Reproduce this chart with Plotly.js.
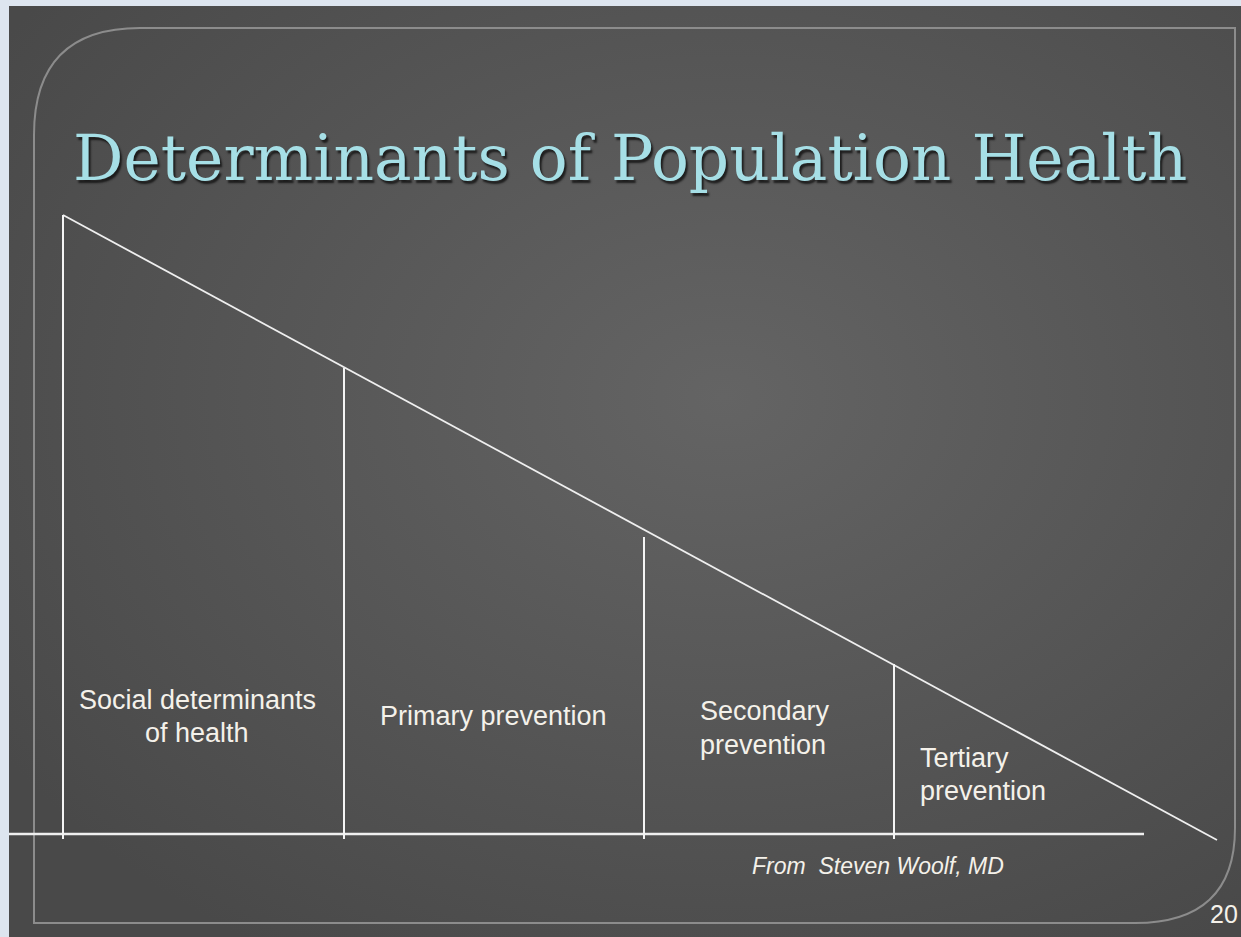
<!DOCTYPE html>
<html>
<head>
<meta charset="utf-8">
<script src="https://cdn.plot.ly/plotly-3.0.1.min.js"></script>
<style>
html,body{margin:0;padding:0;background:#dde5ef;}
#chart{width:1241px;height:937px;}
</style>
</head>
<body>
<div id="chart"></div>
<script>
// ---- data (diagram coordinates) ----
const titleText = "Determinants of Population Health";
const labelLines = ["Social determinants", "of health", "Primary prevention", "Secondary", "prevention", "Tertiary", "prevention"];
const labelX = [197, 197, 493, 698, 698, 918, 918];
const labelY = [700, 733, 716, 711, 745, 758, 791];
const labelAnchor = ["center", "center", "center", "left", "left", "left", "left"];
const boundaryX = [63, 344, 644, 894];
const boundaryTop = [215, 368, 537, 664];
const boundaryBottom = [839, 839, 839, 839];
const diagonalX = [63, 1217];
const diagonalY = [215, 840];
const baselineX = [9, 1144];
const baselineY = [834, 834];
const sourceText = "From  Steven Woolf, MD";
const pageNumber = "20";

const traces = [];
traces.push({x: baselineX, y: baselineY, mode: "lines", line: {color: "#efefef", width: 2.5}, hoverinfo: "skip", showlegend: false});
traces.push({x: diagonalX, y: diagonalY, mode: "lines", line: {color: "#efefef", width: 1.8}, hoverinfo: "skip", showlegend: false});
boundaryX.forEach((bx, i) => {
  traces.push({x: [bx, bx], y: [boundaryTop[i], boundaryBottom[i]], mode: "lines", line: {color: "#f4f4f4", width: 2}, hoverinfo: "skip", showlegend: false});
});

const annotations = [];
annotations.push({x: 630, y: 158, xref: "x", yref: "y", text: titleText, showarrow: false, xanchor: "center", yanchor: "middle",
  font: {family: "DejaVu Serif", size: 63, color: "#a6dfe6", shadow: "2px 3px 2px rgba(15,15,15,0.8)"}});
labelLines.forEach((t, i) => {
  annotations.push({x: labelX[i], y: labelY[i], xref: "x", yref: "y", text: t, showarrow: false,
    xanchor: labelAnchor[i], yanchor: "middle",
    font: {family: "Liberation Sans", size: 27, color: "#f4f1ea"}});
});
annotations.push({x: 750, y: 866, xref: "x", yref: "y", text: "<i>" + sourceText + "</i>", showarrow: false,
  xanchor: "left", yanchor: "middle", font: {family: "Liberation Sans", size: 23, color: "#f4f1ea"}});
annotations.push({x: 1240, y: 914, xref: "x", yref: "y", text: pageNumber, showarrow: false,
  xanchor: "right", yanchor: "middle", font: {family: "Liberation Sans", size: 25, color: "#f4f1ea"}});

const bgSvg = '<svg xmlns="http://www.w3.org/2000/svg" width="1241" height="937">' +
  '<defs><radialGradient id="g" cx="0.58" cy="0.42" r="0.7">' +
  '<stop offset="0" stop-color="#646464"/><stop offset="1" stop-color="#494949"/></radialGradient></defs>' +
  '<rect x="0" y="0" width="1241" height="937" fill="#dde5ef"/>' +
  '<rect x="9" y="6" width="1232" height="931" fill="url(#g)"/></svg>';

const framePath = "M 34,135 Q 34,28 140,28 L 1235,28 L 1235,828 Q 1235,923 1135,923 L 34,923 Z";

const layout = {
  width: 1241, height: 937,
  margin: {l: 0, r: 0, t: 0, b: 0},
  paper_bgcolor: "#dde5ef",
  plot_bgcolor: "rgba(0,0,0,0)",
  xaxis: {range: [0, 1241], visible: false, fixedrange: true},
  yaxis: {range: [937, 0], visible: false, fixedrange: true},
  images: [{source: "data:image/svg+xml;charset=utf-8," + encodeURIComponent(bgSvg),
    xref: "paper", yref: "paper", x: 0, y: 1, sizex: 1, sizey: 1, sizing: "stretch", layer: "below", xanchor: "left", yanchor: "top"}],
  shapes: [
    {type: "path", path: framePath, xref: "x", yref: "y", line: {color: "#8c8c8c", width: 2}, fillcolor: "rgba(0,0,0,0)", layer: "below"}
  ],
  annotations: annotations,
  showlegend: false
};

Plotly.newPlot("chart", traces, layout, {displayModeBar: false, staticPlot: true});
</script>
</body>
</html>
